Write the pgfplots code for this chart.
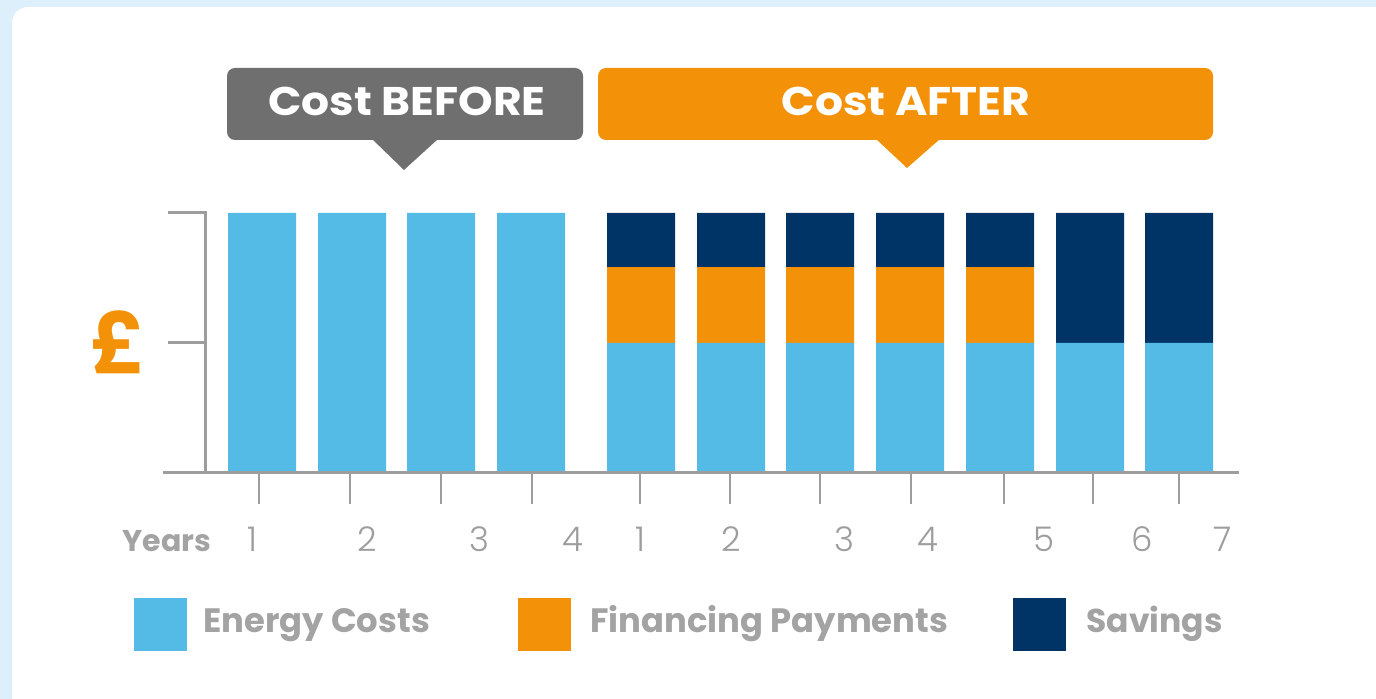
\documentclass[border=0pt]{standalone}
\usepackage{pgfplots}
\usepackage{pgfplotstable}
\pgfplotsset{compat=1.18}
\usepackage{fontspec}
\setmainfont{Poppins}
\newfontfamily\widefont[FakeStretch=1.1]{Poppins}
\newfontfamily\lightfont{Poppins Light}
\definecolor{energy}{HTML}{53BBE6}
\definecolor{fin}{HTML}{F39209}
\definecolor{sav}{HTML}{003366}
\definecolor{callgray}{HTML}{6F6F6F}
\definecolor{axgray}{HTML}{9D9D9D}
\definecolor{txtgray}{HTML}{A3A3A3}
\definecolor{bg}{HTML}{DDEFFB}

\pgfplotstableread{
x e f s
262 1 0 0
352 1 0 0
441 1 0 0
531 1 0 0
641 0.5 0.292 0.208
731 0.5 0.292 0.208
820 0.5 0.292 0.208
910 0.5 0.292 0.208
1000 0.5 0.292 0.208
1090 0.5 0 0.5
1179 0.5 0 0.5
}\data

\begin{document}
\begin{tikzpicture}[x=0.5pt,y=0.5pt]
\fill[bg] (0,0) rectangle (1376,699);
\fill[white] (12,0) [rounded corners=8pt] -- (12,692) [sharp corners] -- (1376,692) -- (1376,0) -- cycle;
% callouts
\fill[callgray, rounded corners=4pt] (227,559) rectangle (583,631);
\fill[callgray] (372,560) -- (404,529) -- (438,560) -- cycle;
\node[white, anchor=base, inner sep=0, font=\widefont\bfseries\fontsize{20}{23}\selectfont] at (407,583) {Cost BEFORE};
\fill[fin, rounded corners=4pt] (598,559) rectangle (1213,631);
\fill[fin] (876,560) -- (907,531) -- (940,560) -- cycle;
\node[white, anchor=base, inner sep=0, font=\widefont\bfseries\fontsize{20}{23}\selectfont] at (906,583) {Cost AFTER};
% axis
\begin{axis}[
  at={(81.5pt,113pt)}, anchor=south west,
  scale only axis, width=538pt, height=130pt,
  xmin=163, xmax=1239, ymin=0, ymax=1,
  axis x line=bottom, axis y line=none,
  axis line style={axgray, line width=1.5pt, -},
  xtick={259,350,441,532,640,730,820,911,1004,1093,1179},
  xticklabels={}, ytick=\empty,
  tick align=outside, major tick length=15.5pt,
  xtick style={axgray, line width=1.3pt},
  ybar stacked, bar width=34pt,
  clip=false, axis on top,
]
\addplot[fill=energy, draw=none] table[x=x,y=e]{\data};
\addplot[fill=fin, draw=none] table[x=x,y=f]{\data};
\addplot[fill=sav, draw=none] table[x=x,y=s]{\data};
\draw[axgray, line width=1.5pt] (axis cs:168,1) -- (axis cs:205,1) -- (axis cs:205,0);
\draw[axgray, line width=1.5pt] (axis cs:168,0.5) -- (axis cs:205,0.5);
\end{axis}
% pound sign
\node[fin, anchor=base, inner sep=0, font=\bfseries\fontsize{42}{48}\selectfont] at (118,325) {£};
% year labels
\node[txtgray, anchor=base, inner sep=0, font=\bfseries\fontsize{15}{18}\selectfont] at (167,147) {Years};
\foreach \xx/\lab in {252/1,367/2,479/3,573/4,640/1,731/2,844/3,928/4,1044/5,1142/6,1223/7}{
  \node[axgray, anchor=base, inner sep=0, font=\lightfont\fontsize{17}{20}\selectfont] at (\xx,147) {\lab};
}
% legend
\fill[energy] (134,48) rectangle (187,101);
\node[txtgray, anchor=base west, inner sep=0, font=\bfseries\fontsize{16.9}{20}\selectfont] at (203,66) {Energy Costs};
\fill[fin] (518,48) rectangle (571,101);
\node[txtgray, anchor=base west, inner sep=0, font=\bfseries\fontsize{16.9}{20}\selectfont] at (590,66) {Financing Payments};
\fill[sav] (1013,48) rectangle (1066,101);
\node[txtgray, anchor=base west, inner sep=0, font=\bfseries\fontsize{16.5}{20}\selectfont] at (1086,66) {Savings};
\end{tikzpicture}
\end{document}
